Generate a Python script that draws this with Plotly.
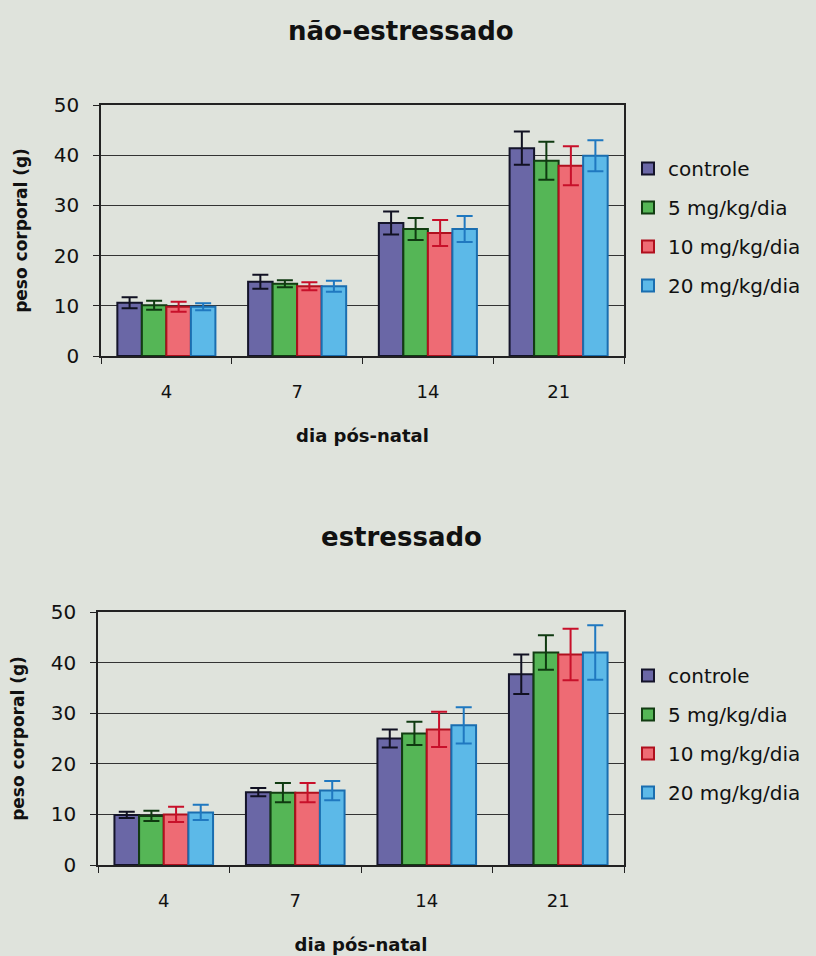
import plotly.graph_objects as go

days = ["4", "7", "14", "21"]
series_names = ["controle", "5 mg/kg/dia", "10 mg/kg/dia", "20 mg/kg/dia"]

# não-estressado
ns_controle = [10.6, 14.8, 26.5, 41.4]
ns_controle_err = [1.1, 1.4, 2.3, 3.3]
ns_5 = [10.1, 14.4, 25.3, 38.9]
ns_5_err = [0.9, 0.7, 2.2, 3.8]
ns_10 = [9.8, 13.9, 24.5, 37.9]
ns_10_err = [1.0, 0.8, 2.6, 3.9]
ns_20 = [9.8, 13.9, 25.3, 39.9]
ns_20_err = [0.7, 1.1, 2.6, 3.1]

# estressado
st_controle = [9.9, 14.4, 25.0, 37.7]
st_controle_err = [0.6, 0.8, 1.8, 3.9]
st_5 = [9.7, 14.3, 26.0, 42.0]
st_5_err = [1.0, 1.9, 2.3, 3.4]
st_10 = [10.0, 14.3, 26.8, 41.6]
st_10_err = [1.5, 1.9, 3.5, 5.1]
st_20 = [10.4, 14.7, 27.6, 42.0]
st_20_err = [1.5, 1.9, 3.6, 5.4]

fills = ["#6a67a6", "#55b656", "#ee6b74", "#5cb9e8"]
lines = ["#14142a", "#123d12", "#b0101e", "#1a6eb0"]
errc = ["#111122", "#0f3a10", "#c8102a", "#1f78c0"]

BG = "#dfe3dc"
FONT = "DejaVu Sans, Verdana, sans-serif"
W, H = 816, 956

fig = go.Figure()

ns = [(ns_controle, ns_controle_err), (ns_5, ns_5_err), (ns_10, ns_10_err), (ns_20, ns_20_err)]
st = [(st_controle, st_controle_err), (st_5, st_5_err), (st_10, st_10_err), (st_20, st_20_err)]

for i, (v, e) in enumerate(ns):
    fig.add_trace(go.Bar(
        x=days, y=v, name=series_names[i], xaxis="x", yaxis="y", legend="legend",
        legendgroup="a%d" % i,
        marker=dict(color=fills[i], line=dict(color=lines[i], width=2)),
        error_y=dict(type="data", array=e, color=errc[i], thickness=2, width=8),
    ))
for i, (v, e) in enumerate(st):
    fig.add_trace(go.Bar(
        x=days, y=v, name=series_names[i], xaxis="x2", yaxis="y2", legend="legend2",
        legendgroup="b%d" % i,
        marker=dict(color=fills[i], line=dict(color=lines[i], width=2)),
        error_y=dict(type="data", array=e, color=errc[i], thickness=2, width=8),
    ))

def py(p):
    return 1 - p / H

def px(p):
    return p / W

axis_common = dict(showline=True, linecolor="#222", linewidth=1.5, mirror=True, automargin=False)
xcommon = dict(axis_common, type="category", ticks="outside", tickson="boundaries", ticklen=6,
               tickcolor="#222", tickfont=dict(family=FONT, size=18, color="#111"),
               showgrid=False, ticklabelstandoff=19,
               title=dict(text="<b>dia pós-natal</b>", font=dict(family=FONT, size=18, color="#111"), standoff=28))
ycommon = dict(axis_common, range=[0, 50], dtick=10, ticks="outside", ticklen=6, tickcolor="#222",
               tickfont=dict(family=FONT, size=20, color="#111"), showgrid=True, gridcolor="#333",
               gridwidth=1.2, zeroline=False, ticklabelstandoff=10,
               title=dict(text="<b>peso corporal (g)</b>", font=dict(family=FONT, size=17, color="#111"), standoff=22))

legend_common = dict(xanchor="left", yanchor="top", bgcolor="rgba(0,0,0,0)",
                     font=dict(family=FONT, size=20, color="#111"), itemwidth=30, tracegroupgap=10)

fig.update_layout(
    width=W, height=H, margin=dict(l=0, r=0, t=0, b=0, autoexpand=False),
    paper_bgcolor=BG, plot_bgcolor=BG,
    barmode="group", bargap=0.25, bargroupgap=0,
    font=dict(family=FONT, color="#111"),
    xaxis=dict(xcommon, domain=[px(101), px(624)], anchor="y"),
    yaxis=dict(ycommon, domain=[py(356), py(105)], anchor="x"),
    xaxis2=dict(xcommon, domain=[px(98), px(624)], anchor="y2"),
    yaxis2=dict(ycommon, domain=[py(865), py(612)], anchor="x2"),
    legend=dict(legend_common, x=px(628), y=py(149)),
    legend2=dict(legend_common, x=px(628), y=py(656)),
    annotations=[
        dict(text="<b>não-estressado</b>", x=px(401), y=py(31), xref="paper", yref="paper",
             showarrow=False, font=dict(family=FONT, size=26, color="#111"), yanchor="middle"),
        dict(text="<b>estressado</b>", x=px(401), y=py(537), xref="paper", yref="paper",
             showarrow=False, font=dict(family=FONT, size=26, color="#111"), yanchor="middle"),
    ],
)

fig.write_html("out.html", config={"displayModeBar": False},
               post_script="document.body.style.margin='0';document.body.style.background='%s';" % BG)
